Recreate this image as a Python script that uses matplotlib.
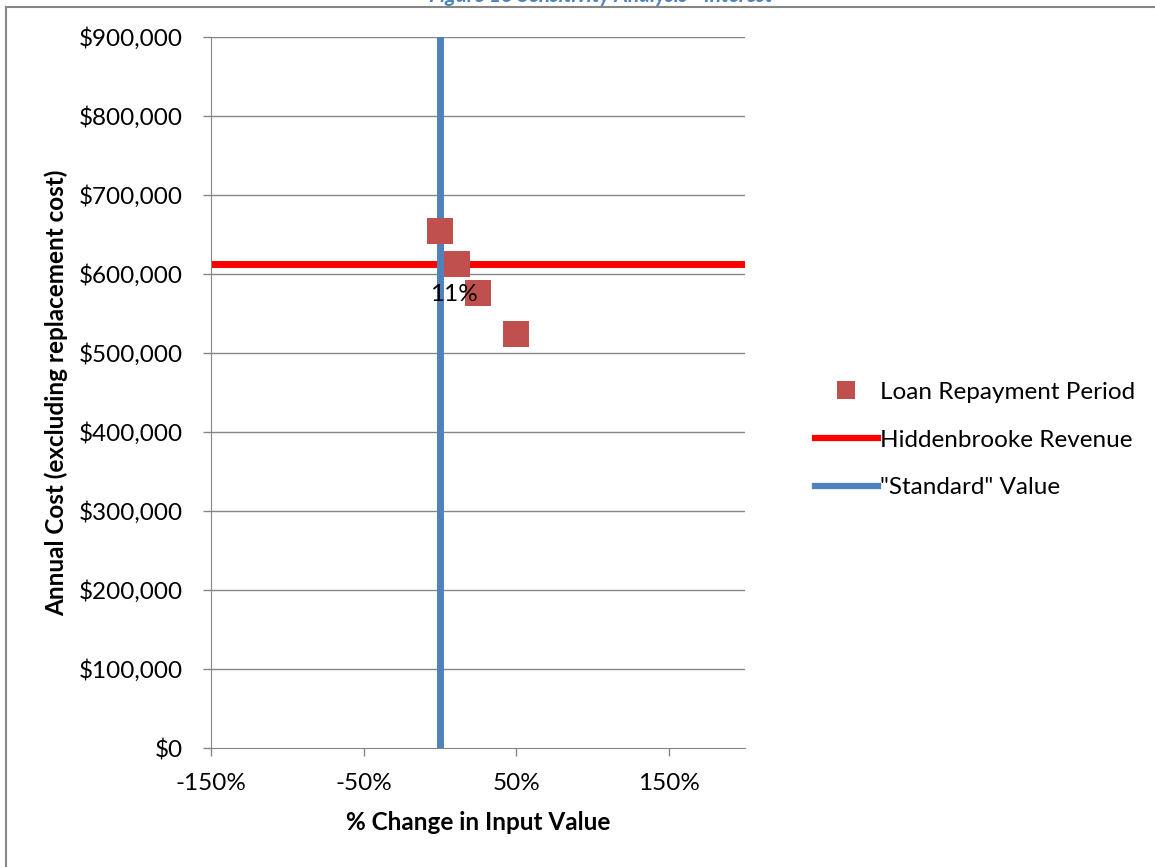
import matplotlib.pyplot as plt
from matplotlib.lines import Line2D
from matplotlib.ticker import FuncFormatter, FixedLocator

plt.rcParams['font.family'] = ['Lato', 'DejaVu Sans']

# donnees
pct_change = [0, 11, 25, 50]
annual_cost = [654000, 613000, 576000, 524000]
point_labels = ['', '11%', '', '']
revenue = 613000
standard_value = 0
x_ticks = [-150, -50, 50, 150]
y_ticks = list(range(0, 900001, 100000))

fig = plt.figure(figsize=(11.55, 8.67), dpi=100)
ax = fig.add_axes([211/1155, 1 - 748/867, (745-211)/1155, (748-37)/867])

grey = '#868686'
fs = 17.5

# grille horizontale
for y in y_ticks[1:]:
    ax.axhline(y, color=grey, lw=1, zorder=0)

ax.axhline(revenue, color='#FF0000', lw=5, zorder=2)
ax.axvline(standard_value, color='#4F81BD', lw=5, zorder=2)
ax.scatter(pct_change, annual_cost, marker='s', s=330, color='#C0504D', zorder=3, linewidths=0)

for x, y, lab in zip(pct_change, annual_cost, point_labels):
    if lab:
        ax.annotate(lab, (x, y), xytext=(-2, -22), textcoords='offset points',
                    ha='center', va='center', fontsize=fs, color='black', zorder=4)

ax.set_xlim(-150, 200)
ax.set_ylim(0, 900000)
ax.xaxis.set_major_locator(FixedLocator(x_ticks))
ax.yaxis.set_major_locator(FixedLocator(y_ticks))
ax.xaxis.set_major_formatter(FuncFormatter(lambda v, p: f'{v:.0f}%'))
ax.yaxis.set_major_formatter(FuncFormatter(lambda v, p: f'${v:,.0f}'))

for s in ['top', 'right']:
    ax.spines[s].set_visible(False)
for s in ['left', 'bottom']:
    ax.spines[s].set_color(grey)
ax.tick_params(axis='both', color=grey, length=6, width=1, labelsize=fs, direction='out')
ax.tick_params(axis='y', pad=14)
ax.tick_params(axis='x', pad=12)

ax.set_xlabel('% Change in Input Value', fontsize=fs, fontweight='bold', labelpad=12)
ax.set_ylabel('Annual Cost (excluding replacement cost)', fontsize=fs, fontweight='bold', labelpad=8)

handles = [
    Line2D([], [], marker='s', ls='none', color='#C0504D', markersize=13, markeredgewidth=0),
    Line2D([], [], color='#FF0000', lw=4.5),
    Line2D([], [], color='#4F81BD', lw=4.5),
]
labels = ['Loan Repayment Period', 'Hiddenbrooke Revenue', '"Standard" Value']
fig.legend(handles, labels, loc='center left', bbox_to_anchor=(805/1155, 1 - 440/867),
           frameon=False, fontsize=fs, handlelength=2.6, handletextpad=0.1,
           labelspacing=1.1, borderaxespad=0)

# cadre du graphique et titre coupe
fig.add_artist(Line2D([6/1155, 1], [1 - 7/867, 1 - 7/867], color=grey, lw=1.5))
fig.add_artist(Line2D([6/1155, 6/1155], [0, 1 - 7/867], color=grey, lw=1.5))
fig.text(601/1155, 1 + 4/867, 'Figure 13 Sensitivity Analysis - Interest', ha='center', va='center',
         color='#4F81BD', fontsize=15, fontweight='bold', style='italic')

fig.savefig('out.png', dpi=100)
